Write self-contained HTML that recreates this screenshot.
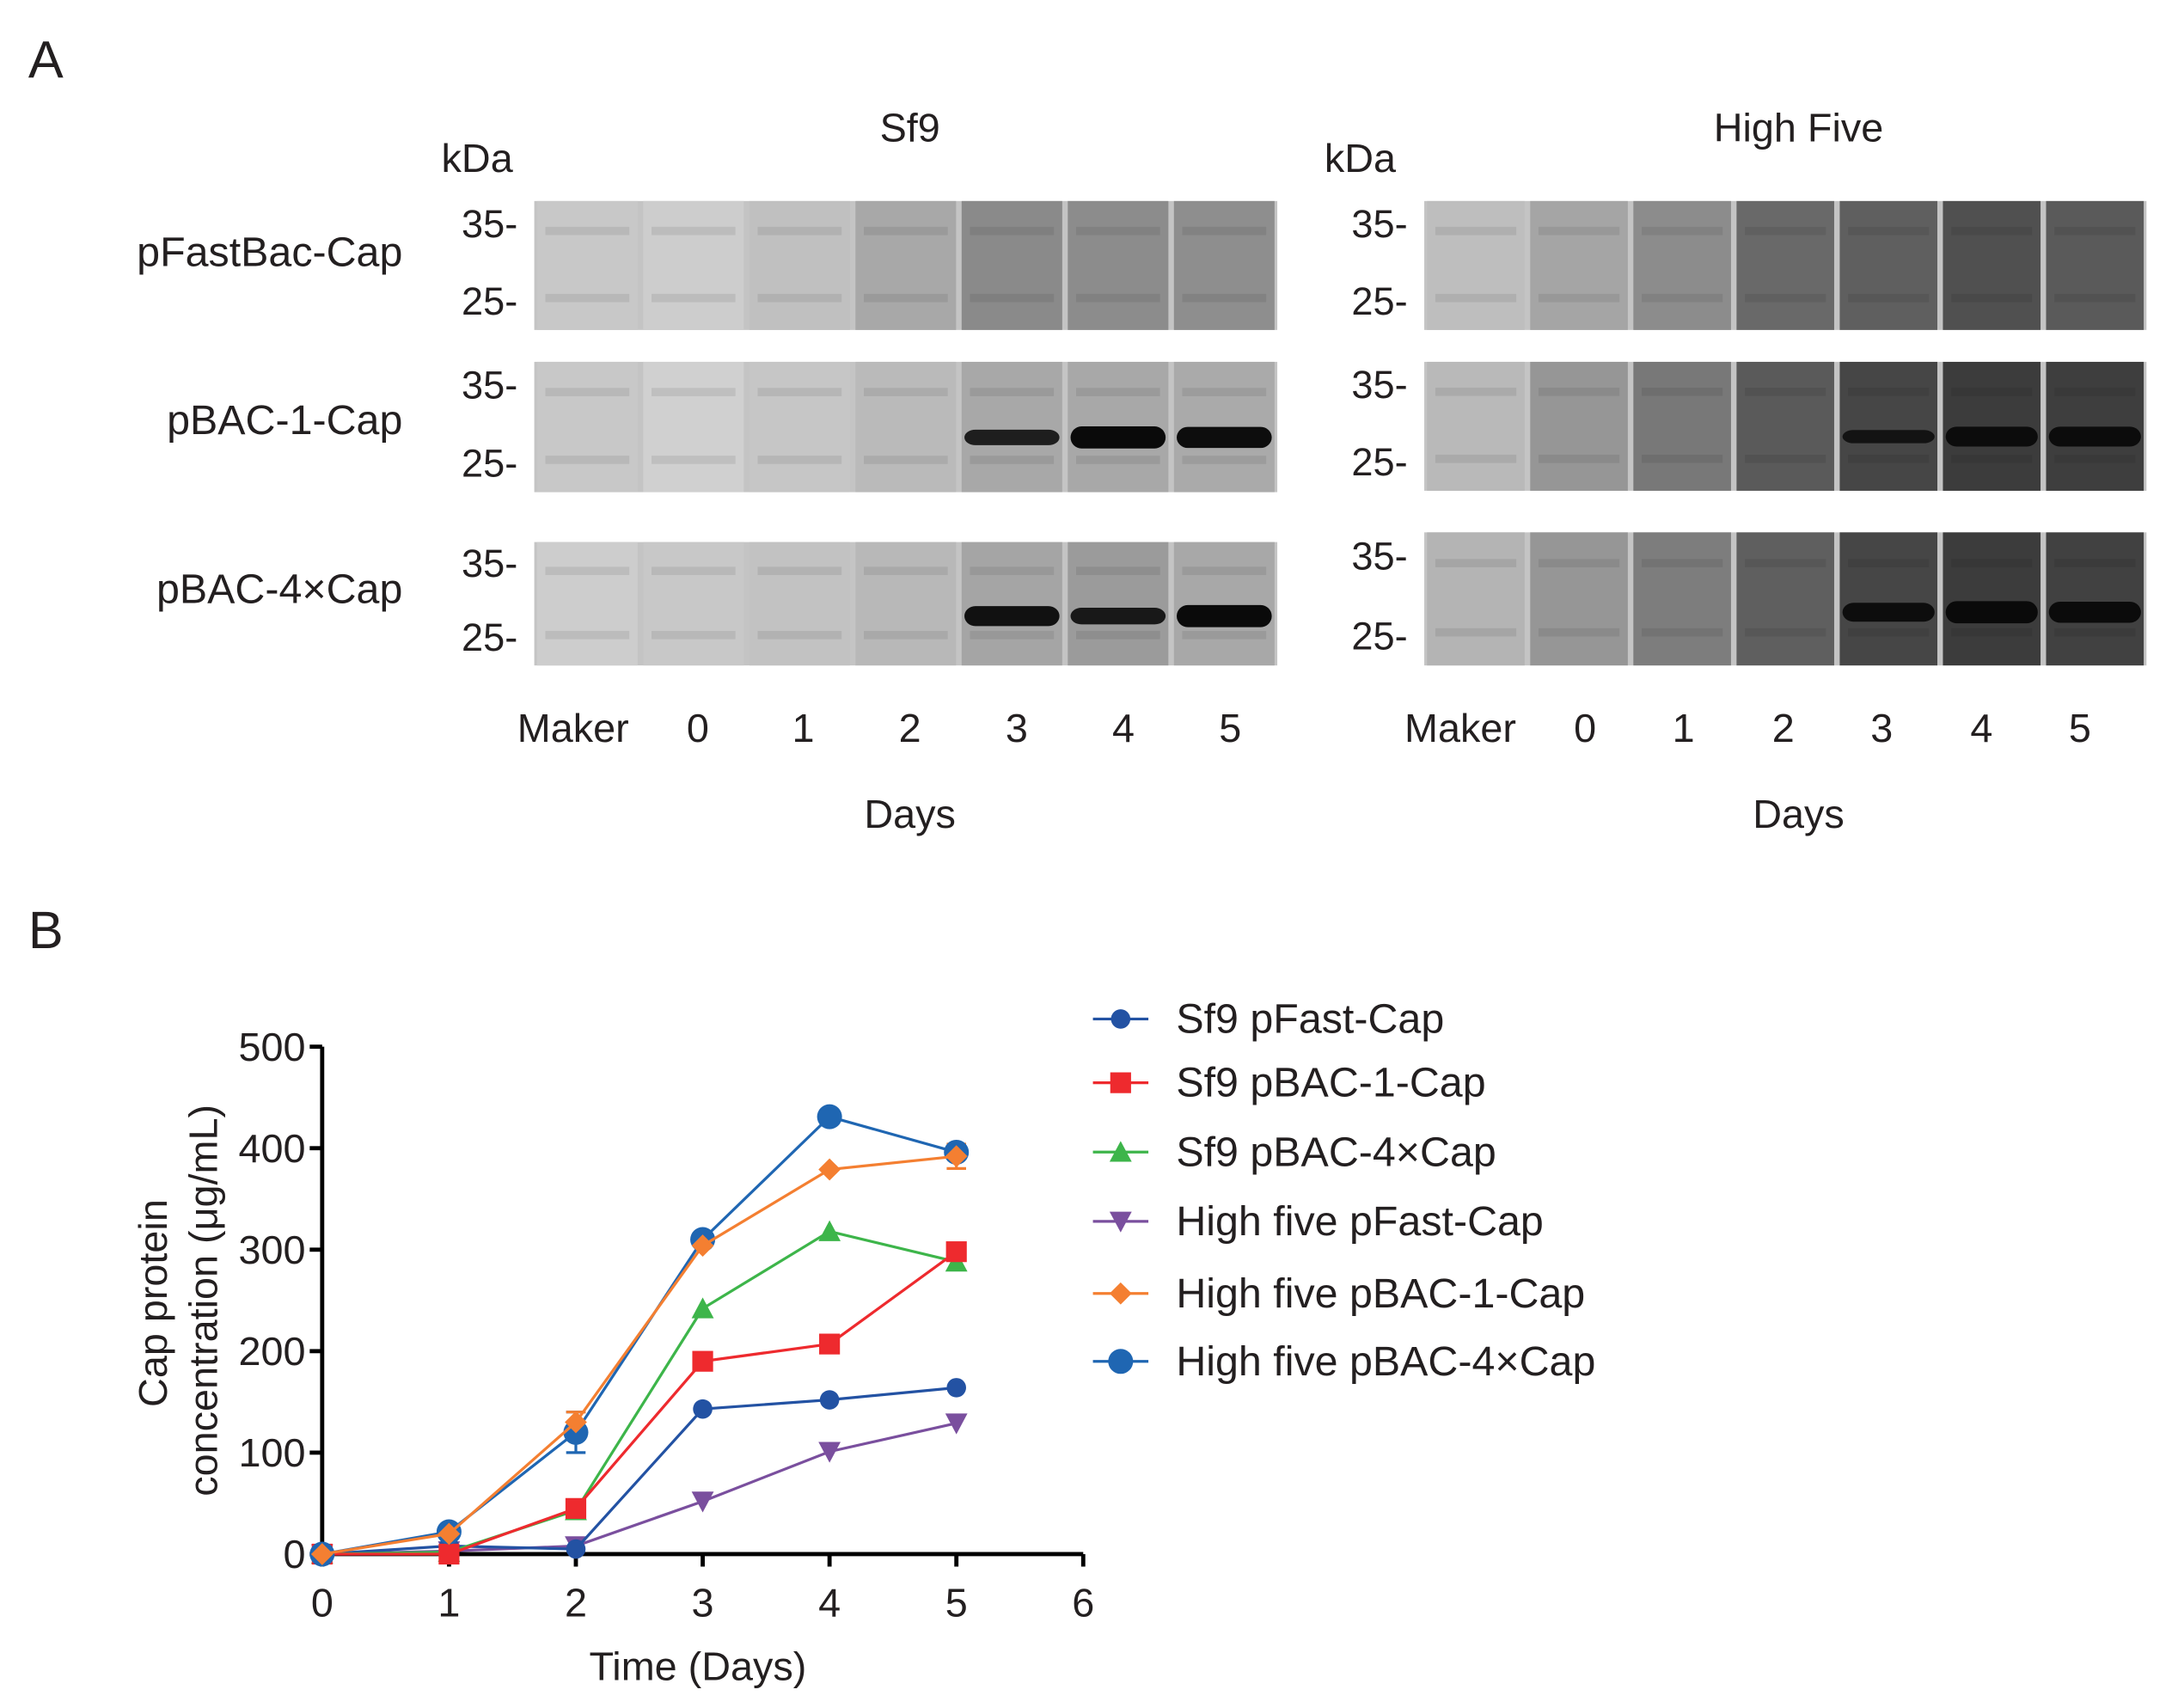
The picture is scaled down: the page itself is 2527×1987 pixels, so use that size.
<!DOCTYPE html>
<html><head><meta charset="utf-8"><style>
html,body{margin:0;padding:0;background:#fff}
svg{display:block}
text{font-family:"Liberation Sans",Arial,sans-serif;fill:#231f20}
</style></head><body>
<svg id="fig" width="2527" height="1987" viewBox="0 0 1566 1232" xmlns="http://www.w3.org/2000/svg">
<text x="20" y="56" font-size="38">A</text>
<text x="20" y="684" font-size="38">B</text>
<g id="gels"></g>
<g id="chart"></g>
</svg>
<script>
// ---------- chart data ----------
const days = [0, 1, 2, 3, 4, 5];
const seriesNames = ["Sf9 pFast-Cap","Sf9 pBAC-1-Cap","Sf9 pBAC-4×Cap","High five pFast-Cap","High five pBAC-1-Cap","High five pBAC-4×Cap"];
const sf9PFast = [0, 8, 5, 143, 152, 164];
const sf9PBAC1 = [0, 0, 45, 190, 207, 298];
const sf9PBAC4 = [0, 2, 43, 242, 318, 288];
const hfPFast = [0, 3, 8, 52, 101, 129];
const hfPBAC1 = [0, 20, 130, 304, 379, 392];
const hfPBAC4 = [0, 22, 120, 310, 431, 396];
const hfPBAC4Err = [0, 3, 20, 4, 4, 6];
const hfPBAC1Err = [0, 2, 10, 3, 3, 12];
const xTicks = [0, 1, 2, 3, 4, 5, 6];
const yTicks = [0, 100, 200, 300, 400, 500];

const NS = "http://www.w3.org/2000/svg";
function mk(tag, attrs, parent, txt){
  const e = document.createElementNS(NS, tag);
  for (const k in attrs) e.setAttribute(k, attrs[k]);
  if (txt !== undefined) e.textContent = txt;
  parent.appendChild(e); return e;
}
const X0 = 232, X1 = 781, Y0 = 1121, Y1 = 755;
const xs = d => X0 + (d / 6) * (X1 - X0);
const ys = v => Y0 - (v / 500) * (Y0 - Y1);

const chart = document.getElementById('chart');
let ax = mk('line', {x1:X0,y1:Y1,x2:X0,y2:Y0+2,stroke:'#000','stroke-width':3}, chart);


ax = mk('line', {x1:X0-2,y1:Y0,x2:X1,y2:Y0,stroke:'#000','stroke-width':3}, chart);


yTicks.forEach(t => {
  mk('line', {x1:X0-9,y1:ys(t),x2:X0,y2:ys(t),stroke:'#000','stroke-width':3}, chart);
  const tl = mk('text', {x:X0-12,y:ys(t)+10,'font-size':29,'text-anchor':'end'}, chart, String(t));
  
  
});
xTicks.forEach(t => {
  mk('line', {x1:xs(t),y1:Y0,x2:xs(t),y2:Y0+9,stroke:'#000','stroke-width':3}, chart);
  const tl = mk('text', {x:xs(t),y:Y0+45,'font-size':29,'text-anchor':'middle'}, chart, String(t));
  
  
});
let t1 = mk('text', {x:503,y:1212,'font-size':29,'text-anchor':'middle'}, chart, 'Time (Days)');


let t2 = mk('text', {transform:'translate(120,940) rotate(-90)','font-size':29,'text-anchor':'middle'}, chart, 'Cap protein');


let t3 = mk('text', {transform:'translate(156,938) rotate(-90)','font-size':29,'text-anchor':'middle'}, chart, 'concentration (μg/mL)');



const colors = ['#2352a3','#ee2a2e','#3db54a','#7a4f9e','#f47f31','#1f66b2'];
const markers = ['circle','square','triangle','down','diamond','bigcircle'];
const allData = [sf9PFast, sf9PBAC1, sf9PBAC4, hfPFast, hfPBAC1, hfPBAC4];
function marker(type, x, y, c, parent){
  if (type==='circle') return mk('circle',{cx:x,cy:y,r:7,fill:c},parent);
  if (type==='bigcircle') return mk('circle',{cx:x,cy:y,r:9,fill:c},parent);
  if (type==='square') return mk('rect',{x:x-7.5,y:y-7.5,width:15,height:15,fill:c},parent);
  if (type==='triangle') return mk('polygon',{points:`${x},${y-8} ${x+8},${y+7} ${x-8},${y+7}`,fill:c},parent);
  if (type==='down') return mk('polygon',{points:`${x-8},${y-7} ${x+8},${y-7} ${x},${y+8}`,fill:c},parent);
  if (type==='diamond') return mk('polygon',{points:`${x},${y-8} ${x+8},${y} ${x},${y+8} ${x-8},${y}`,fill:c},parent);
}
function errBars(vals, errs, c){
  vals.forEach((v,i)=>{
    if (errs[i] < 5) return;
    const x = xs(days[i]);
    const g = mk('g',{stroke:c,'stroke-width':2},chart);
    
    
    mk('line',{x1:x,y1:ys(v-errs[i]),x2:x,y2:ys(v+errs[i])},g);
    mk('line',{x1:x-7,y1:ys(v-errs[i]),x2:x+7,y2:ys(v-errs[i])},g);
    mk('line',{x1:x-7,y1:ys(v+errs[i]),x2:x+7,y2:ys(v+errs[i])},g);
  });
}
errBars(hfPBAC4, hfPBAC4Err, colors[5]);
errBars(hfPBAC1, hfPBAC1Err, colors[4]);
const order = [3,0,2,1,5,4];
order.forEach(si=>{
  const g = mk('g',{},chart);
  
  
  const pts = allData[si].map((v,i)=>xs(days[i])+','+ys(v)).join(' ');
  mk('polyline',{points:pts,fill:'none',stroke:colors[si],'stroke-width':2},g);
  allData[si].forEach((v,i)=>{
    const m = marker(markers[si], xs(days[i]), ys(v), colors[si], g);
    
    
  });
});
const legY = [735, 781, 831, 881, 933, 982];
seriesNames.forEach((n,i)=>{
  const g = mk('g',{},chart);
  
  
  mk('line',{x1:788,y1:legY[i],x2:828,y2:legY[i],stroke:colors[i],'stroke-width':2},g);
  marker(markers[i], 808, legY[i], colors[i], g);
  mk('text',{x:848,y:legY[i]+10,'font-size':30},g,n);
});

// ---------- gels ----------
const gels = document.getElementById('gels');
const gelNames = ['pFastBac-Cap','pBAC-1-Cap','pBAC-4×Cap'];
const laneLabels = ['Maker','0','1','2','3','4','5'];
const sf9Rows = [[145,238],[261,355],[391,480]];
const hfRows = [[145,238],[261,354],[384,480]];
const sf9Shade = [[200,205,192,168,138,140,142],[200,208,198,186,168,168,170],[205,200,194,184,165,155,168]];
const hfShade = [[190,165,140,105,95,80,90],[185,150,120,90,70,60,62],[180,150,125,95,70,60,65]];
const sf9Band = [[0,0,0,0,0,0,0],[0,0,0,0,0.7,1,0.95],[0,0,0,0,0.9,0.75,1]];
const hfBand = [[0,0,0,0,0,0,0],[0,0,0,0,0.6,0.9,0.9],[0,0,0,0,0.85,1,0.95]];
function gelPanel(x0, x1, rows, shades, bands, labelX, kdaX, title, titleX){
  const lw = (x1-x0)/7;
  mk('text',{x:titleX,y:102,'font-size':29,'text-anchor':'middle'},gels,title);
  mk('text',{x:kdaX,y:124,'font-size':29},gels,'kDa');
  rows.forEach((r,ri)=>{
    const g = mk('g',{},gels);
    
    
    mk('rect',{x:x0,y:r[0],width:x1-x0,height:r[1]-r[0],fill:'#c4c4c4'},g);
    for (let l=0;l<7;l++){
      const s = shades[ri][l];
      mk('rect',{x:x0+l*lw+2,y:r[0],width:lw-4,height:r[1]-r[0],fill:`rgb(${s},${s},${s})`},g);
      const h = r[1]-r[0];
      mk('rect',{x:x0+l*lw+8,y:r[0]+h*0.2,width:lw-16,height:6,fill:'rgba(0,0,0,0.08)'},g);
      mk('rect',{x:x0+l*lw+8,y:r[0]+h*0.72,width:lw-16,height:6,fill:'rgba(0,0,0,0.08)'},g);
      const b = bands[ri][l];
      if (b>0){
        const by = ri===1 ? r[0]+h*0.58 : r[0]+h*0.6;
        mk('rect',{x:x0+l*lw+4,y:by-8*b,width:lw-8,height:16*b,rx:8,fill:`rgba(10,10,10,${0.6+0.4*b})`},g);
      }
    }
    const h = r[1]-r[0];
    mk('text',{x:x0-12,y:r[0]+h*0.28,'font-size':28,'text-anchor':'end'},gels,'35-');
    mk('text',{x:x0-12,y:r[0]+h*0.88,'font-size':28,'text-anchor':'end'},gels,'25-');
  });
  labelX.forEach((lx,i)=>mk('text',{x:lx,y:535,'font-size':29,'text-anchor':'middle'},gels,laneLabels[i]));
  mk('text',{x:titleX,y:597,'font-size':29,'text-anchor':'middle'},gels,'Days');
}
gelPanel(385,921,sf9Rows,sf9Shade,sf9Band,[413,503,579,656,733,810,887],318,'Sf9',656);
gelPanel(1027,1548,hfRows,hfShade,hfBand,[1053,1143,1214,1286,1357,1429,1500],955,'High Five',1297);
const rowLY = [192,313,435];
gelNames.forEach((n,i)=>mk('text',{x:290,y:rowLY[i],'font-size':30,'text-anchor':'end'},gels,n));
</script>
</body></html>
